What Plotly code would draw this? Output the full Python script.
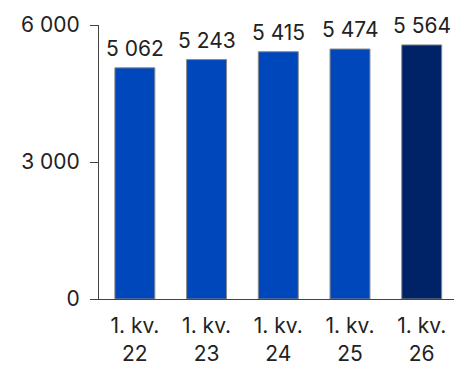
import plotly.graph_objects as go

categories = ["1. kv.<br>22", "1. kv.<br>23", "1. kv.<br>24", "1. kv.<br>25", "1. kv.<br>26"]
values = [5062, 5243, 5415, 5474, 5564]
colors = ["#0047BB", "#0047BB", "#0047BB", "#0047BB", "#002266"]
y_ticks = [0, 3000, 6000]

font = dict(family="Inter", size=21, color="#222222")

fig = go.Figure()
fig.add_trace(go.Bar(
    x=list(range(len(categories))), y=values,
    marker=dict(color=colors, line=dict(color="#8a8a8a", width=1)),
    width=0.557,
    hoverinfo="skip",
))
for i, v in enumerate(values):
    fig.add_annotation(x=i, y=v, text=f"{v:,}".replace(",", " "), showarrow=False,
                       yanchor="bottom", yshift=5, font=font)

fig.update_layout(
    width=454, height=366,
    margin=dict(l=99, r=0, t=25, b=64),
    plot_bgcolor="white", paper_bgcolor="white",
    separators=", ",
    showlegend=False,
    font=font,
    xaxis=dict(range=[-0.5, 4.45], tickvals=list(range(len(categories))), ticktext=categories,
               showline=True, linecolor="#444444", linewidth=1, ticks="", showgrid=False,
               zeroline=False, tickfont=font, ticklabelstandoff=8),
    yaxis=dict(range=[0, 6000], tickvals=y_ticks, tickformat=",d",
               showline=True, linecolor="#444444", linewidth=1, ticks="outside",
               ticklen=8, tickcolor="#444444", showgrid=False, zeroline=False, tickfont=font,
               ticklabelstandoff=6),
)
fig.write_html("out.html")
